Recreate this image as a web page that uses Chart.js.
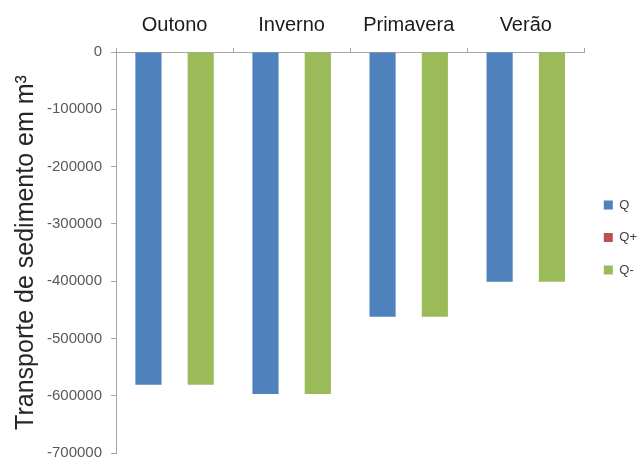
<!DOCTYPE html>
<html>
<head>
<meta charset="utf-8">
<script src="https://cdn.jsdelivr.net/npm/chart.js@4/dist/chart.umd.min.js"></script>
<style>
  body { margin: 0; background: #fff; }
  #wrap { width: 643px; height: 457px; }
</style>
</head>
<body>
<div id="wrap"><canvas id="barChart" width="643" height="457"></canvas></div>
<script>
// seasons and sediment transport (m3)
const seasons = ["Outono", "Inverno", "Primavera", "Verão"];
const qValues = [-581000, -597000, -462000, -401000];
const qPlusValues = [0, 0, 0, 0];
const qMinusValues = [-581000, -597000, -462000, -401000];
const yMin = -700000;
const yMax = 0;
const yStep = 100000;

const fontName = "'Liberation Sans', Arial, sans-serif";

let barChart;

function createChart() {
    const ctx = document.getElementById("barChart").getContext("2d");

    barChart = new Chart(ctx, {
        type: "bar",
        data: {
            labels: seasons,
            datasets: [
                { label: "Q", data: qValues, backgroundColor: "#4F81BD" },
                { label: "Q+", data: qPlusValues, backgroundColor: "#C0504D" },
                { label: "Q-", data: qMinusValues, backgroundColor: "#9BBB59" }
            ]
        },
        options: {
            responsive: false,
            animation: false,
            categoryPercentage: 0.67,
            barPercentage: 1,
            layout: { padding: { top: 2, left: 3, right: -4, bottom: 4 } },
            plugins: {
                tooltip: { enabled: false },
                legend: {
                    position: "right",
                    // empty title just pushes the items down a bit
                    title: { display: true, text: " ", padding: 4, font: { size: 10 } },
                    labels: {
                        boxWidth: 9,
                        boxHeight: 9,
                        padding: 19.5,
                        color: "#404040",
                        font: { family: fontName, size: 13 }
                    }
                }
            },
            scales: {
                x: {
                    position: "top",
                    grid: { drawOnChartArea: false, tickLength: 4, color: "#a6a6a6" },
                    border: { color: "#a6a6a6" },
                    ticks: {
                        padding: 11,
                        color: "#1a1a1a",
                        font: { family: fontName, size: 20 }
                    }
                },
                y: {
                    min: yMin,
                    max: yMax,
                    // let the bottom tick label run off the canvas like the original
                    afterFit: function (scale) { scale.paddingBottom = 0; },
                    grid: { drawOnChartArea: false, tickLength: 5, color: "#a6a6a6" },
                    border: { color: "#a6a6a6" },
                    ticks: {
                        stepSize: yStep,
                        padding: 9,
                        color: "#595959",
                        font: { family: fontName, size: 15 },
                        callback: function (value) { return String(value); }
                    },
                    title: {
                        display: true,
                        text: "Transporte de sedimento em m³",
                        color: "#262626",
                        padding: { top: 8, bottom: -3 },
                        font: { family: fontName, size: 25 }
                    }
                }
            }
        }
    });
}

window.onload = createChart;
</script>
</body>
</html>
